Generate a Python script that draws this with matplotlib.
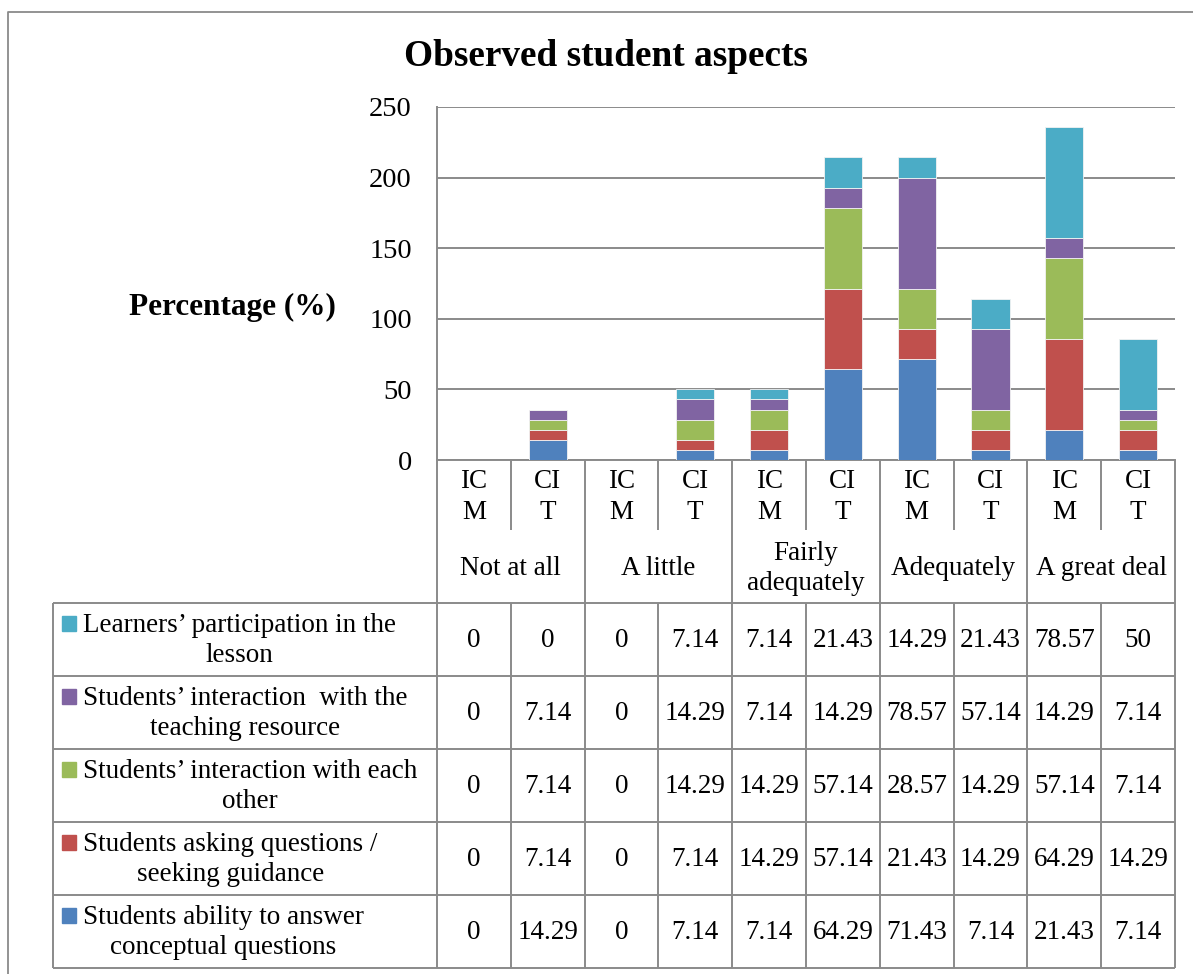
import matplotlib
matplotlib.use("Agg")
import matplotlib.pyplot as plt
from matplotlib.patches import Rectangle

plt.rcParams['font.family'] = ['Liberation Serif', 'DejaVu Serif']

# columns: two groups (ICM, CIT) for each rating level
levels = ["Not at all", "A little", "Fairly\nadequately", "Adequately", "A great deal"]
groups = ["IC\nM", "CI\nT"]

# series listed bottom of the stack first
series_names = [
    "Students ability to answer\nconceptual questions",
    "Students asking questions /\nseeking guidance",
    "Students’ interaction with each\nother",
    "Students’ interaction  with the\nteaching resource",
    "Learners’ participation in the\nlesson",
]
ability = [0, 14.29, 0, 7.14, 7.14, 64.29, 71.43, 7.14, 21.43, 7.14]
asking = [0, 7.14, 0, 7.14, 14.29, 57.14, 21.43, 14.29, 64.29, 14.29]
each_other = [0, 7.14, 0, 14.29, 14.29, 57.14, 28.57, 14.29, 57.14, 7.14]
resource = [0, 7.14, 0, 14.29, 7.14, 14.29, 78.57, 57.14, 14.29, 7.14]
participation = [0, 0, 0, 7.14, 7.14, 21.43, 14.29, 21.43, 78.57, 50]
series = [ability, asking, each_other, resource, participation]
colors = ["#4F81BD", "#C0504D", "#9BBB59", "#8064A2", "#4BACC6"]

W, H = 1193, 974
GRAY = "#8a8a8a"
FS = 19.5

fig = plt.figure(figsize=(W / 100, H / 100), dpi=100)

# pixel layout of the plot area / table
px_left, px_right = 437, 1175
px_top, px_zero = 107, 460
leg_left = 53
row_sub = 530
row_edges = [603, 676, 749, 822, 895, 968]

# full-figure layer in pixel units for frame and table
lay = fig.add_axes([0, 0, 1, 1])
lay.set_xlim(0, W)
lay.set_ylim(H, 0)
lay.axis("off")

ax = fig.add_axes([px_left / W, (H - px_zero) / H,
                   (px_right - px_left) / W, (px_zero - px_top) / H])
n = len(ability)
x = list(range(n))
bottom = [0] * n
for vals, c in zip(series, colors):
    ax.bar(x, vals, width=0.52, bottom=bottom, color=c,
           edgecolor="#f2f2f2", linewidth=0.6, zorder=3)
    bottom = [b + v for b, v in zip(bottom, vals)]

ax.set_xlim(-0.5, n - 0.5)
ax.set_ylim(0, 250)
ax.set_yticks(range(0, 251, 50))
ax.set_xticks([])
ax.tick_params(axis="y", length=0, pad=18, labelsize=FS + 1)
ax.grid(axis="y", color=GRAY, linewidth=1.4, zorder=0)
for s in ["top", "right"]:
    ax.spines[s].set_visible(False)
for s in ["left", "bottom"]:
    ax.spines[s].set_color(GRAY)
    ax.spines[s].set_linewidth(1.4)

fig.text(606 / W, 1 - 56 / H, "Observed student aspects",
         fontsize=26.8, fontweight="bold", ha="center", va="center")
fig.text(232 / W, 1 - 307 / H, "Percentage (%)",
         fontsize=22.5, fontweight="bold", ha="center", va="center")

# outer frame (left and top edges)
lay.plot([7.5, 7.5, W], [H, 11.5, 11.5], color=GRAY, lw=1.3)

# table grid
col_w = (px_right - px_left) / n
cols = [px_left + i * col_w for i in range(n + 1)]
lk = dict(color=GRAY, lw=1.4, solid_capstyle="butt")
lay.plot([px_left, px_left], [px_zero, row_edges[-1]], **lk)
for i in range(1, n + 1):
    y_end = row_sub if i % 2 == 1 else row_edges[-1]
    lay.plot([cols[i], cols[i]], [px_zero, y_end], **lk)
    if i % 2 == 1:
        lay.plot([cols[i], cols[i]], [row_edges[0], row_edges[-1]], **lk)
for y in row_edges:
    lay.plot([leg_left, px_right], [y, y], **lk)
lay.plot([leg_left, leg_left], [row_edges[0], row_edges[-1]], **lk)

# column headers
for i in range(n):
    cx = (cols[i] + cols[i + 1]) / 2
    lay.text(cx, (px_zero + row_sub) / 2 + 2, groups[i % 2], fontsize=FS,
             ha="center", va="center", linespacing=1.3)
for j, lab in enumerate(levels):
    cx = cols[2 * j + 1]
    lay.text(cx, (row_sub + row_edges[0]) / 2 + 2, lab, fontsize=FS,
             ha="center", va="center", linespacing=1.3)

# data rows, top row is the top of the stack
for r in range(len(series)):
    k = len(series) - 1 - r
    y0, y1 = row_edges[r], row_edges[r + 1]
    cy = (y0 + y1) / 2
    lay.add_patch(Rectangle((62, cy - 24), 14, 15, color=colors[k]))
    lay.text(83, cy + 1, series_names[k], fontsize=FS, ha="left", va="center",
             multialignment="center", linespacing=1.3)
    for i, v in enumerate(series[k]):
        cx = (cols[i] + cols[i + 1]) / 2
        lay.text(cx, cy + 1, f"{v:g}", fontsize=FS, ha="center", va="center")

fig.savefig("out.png", dpi=100)
